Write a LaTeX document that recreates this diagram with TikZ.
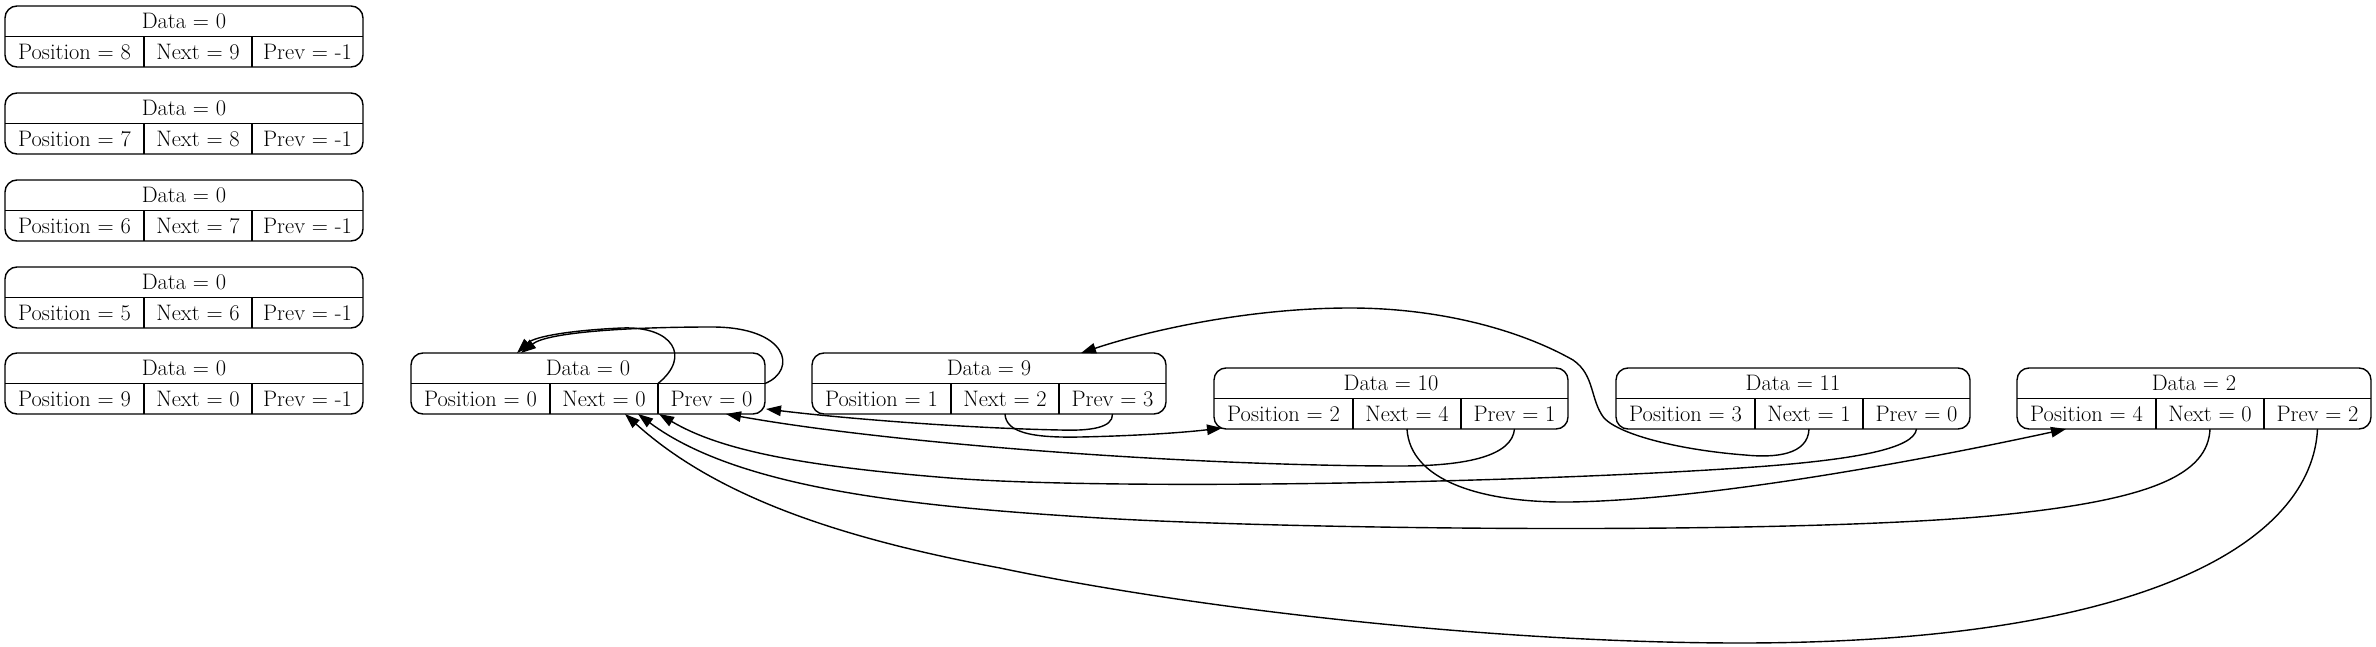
\documentclass[tikz,border=0pt]{standalone}
\usetikzlibrary{arrows.meta,calc}
\newcommand\rec[8]{%
  \node[recbox, minimum width={139+108+#8}, anchor=north west] (#1) at (#2,#3) {};
  \node[cell, minimum width={139+108+#8}, anchor=north west] (#1-d) at (#2,#3) {Data = #4};
  \node[cell, minimum width=139, anchor=north west] (#1-p) at ({#2},{#3+30.5}) {Position = #5};
  \node[cell, minimum width=108, anchor=north west] (#1-n) at (#1-p.north east) {Next = #6};
  \node[cell, minimum width=#8, anchor=north west] (#1-v) at (#1-n.north east) {Prev = #7};
  \draw[recline] (#1-d.south west) -- (#1-d.south east);
  \draw[recline] (#1-p.north east) -- (#1-p.south east);
  \draw[recline] (#1-n.north east) -- (#1-n.south east);
}
\begin{document}
\begin{tikzpicture}[x=1pt,y=-1pt,
  recbox/.style={draw, line width=1.4pt, rounded corners=12pt, inner sep=0pt, outer sep=0pt, minimum height=61pt},
  cell/.style={inner sep=0pt, outer sep=0pt, minimum height=30.5pt, font=\fontsize{22.4}{26}\selectfont},
  recline/.style={line width=1.4pt},
  link/.style={line width=1.4pt, -{Triangle[length=15pt,width=10.5pt]}}]
\useasboundingbox (0,0) rectangle (2376,647);

\rec{L1}{5}{6}{0}{8}{9}{-1}{111}
\rec{L2}{5}{93}{0}{7}{8}{-1}{111}
\rec{L3}{5}{180}{0}{6}{7}{-1}{111}
\rec{L4}{5}{267}{0}{5}{6}{-1}{111}
\rec{L5}{5}{353}{0}{9}{0}{-1}{111}
\rec{A}{411}{353}{0}{0}{0}{0}{107}
\rec{B}{812}{353}{9}{1}{2}{3}{107}
\rec{C}{1214}{368}{10}{2}{4}{1}{107}
\rec{D}{1616}{368}{11}{3}{1}{0}{107}
\rec{E}{2017}{368}{2}{4}{0}{2}{107}

% self loops on A
\draw[link] (A-n.north east) .. controls (692,356) and (672,326) .. (622,328)
  .. controls (575,330) and (535,336) .. ($(A.north west)+(106,0)$);
\draw[link] (A.east) .. controls (798,370) and (788,327) .. (712,327)
  .. controls (630,327) and (548,332) .. ($(A.north west)+(110,0)$);

% B.next -> C
\draw[link] (B-n.south) .. controls (1006,432) and (1030,438) .. (1080,437)
  .. controls (1130,436) and (1180,433) .. ($(C.south west)+(8,-1)$);
% B.prev -> A
\draw[link] (B-v.south) .. controls (1113,428) and (1090,431) .. (1060,430)
  .. controls (960,428) and (840,418) .. ($(A.south east)+(1,-5)$);
% C.prev -> A
\draw[link] (C-v.south) .. controls (1512,455) and (1470,466) .. (1400,466)
  .. controls (1200,466) and (900,445) .. ($(A-v.south west)+(68,0)$);
% D.next -> B
\draw[link] (D-n.south) .. controls (1808,455) and (1775,458) .. (1745,455)
  .. controls (1680,450) and (1620,435) .. (1604,418)
  .. controls (1590,400) and (1595,375) .. (1573,360)
  .. controls (1520,330) and (1440,308) .. (1350,308)
  .. controls (1250,308) and (1150,330) .. ($(B.north west)+(269,0)$);
% D.prev -> A
\draw[link] (D-v.south) .. controls (1914,448) and (1860,460) .. (1740,468)
  .. controls (1500,484) and (1100,490) .. (950,478)
  .. controls (800,466) and (720,450) .. ($(A-n.south east)+(1,0)$);
% C.next -> E
\draw[link] (C-n.south) .. controls (1410,480) and (1480,503) .. (1570,502)
  .. controls (1700,500) and (1900,465) .. ($(E.south west)+(49,0)$);
% E.next -> A
\draw[link] (E-n.south) .. controls (2208,475) and (2150,500) .. (2000,515)
  .. controls (1800,535) and (1300,530) .. (1100,518)
  .. controls (920,507) and (740,490) .. ($(A-n.south west)+(88,0)$);
% E.prev -> A
\draw[link] (E-v.south) .. controls (2312,540) and (2150,643) .. (1740,643)
  .. controls (1500,643) and (1200,610) .. (1000,568)
  .. controls (850,540) and (720,500) .. ($(A-n.south west)+(75,0)$);
\end{tikzpicture}
\end{document}
